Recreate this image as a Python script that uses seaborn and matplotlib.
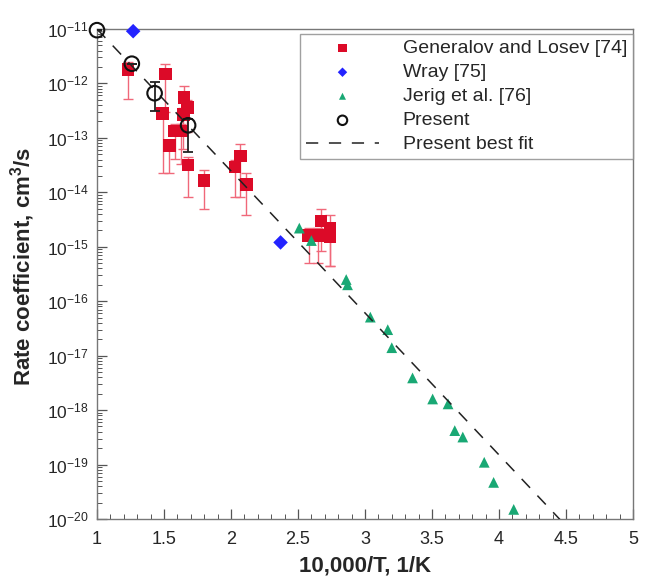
import numpy as np
import pandas as pd
import matplotlib
matplotlib.use("Agg")
import matplotlib.pyplot as plt
import seaborn as sns
from matplotlib.ticker import MultipleLocator, LogLocator, NullFormatter, FixedLocator, FixedFormatter

# ---------------- data ----------------
gl_x = [1.23, 1.51, 1.49, 1.65, 1.675, 1.645, 1.58, 1.63, 1.54, 1.68, 1.80,
        2.07, 2.03, 2.115, 2.58, 2.65, 2.67, 2.74, 2.74]
gl_y = [1.8e-12, 1.5e-12, 2.8e-13, 5.5e-13, 3.6e-13, 2.7e-13, 1.35e-13, 1.35e-13, 7.2e-14, 3.2e-14, 1.66e-14,
        4.6e-14, 2.9e-14, 1.4e-14, 1.6e-15, 1.6e-15, 3.0e-15, 2.2e-15, 1.55e-15]
gl_lo = [5.1e-13, 3.0e-13, 2.3e-14, 2.2e-13, 1.26e-13, 6.2e-14, 4.1e-14, 3.3e-14, 2.3e-14, 8.3e-15, 4.9e-15,
         8.3e-15, 8.3e-15, 3.9e-15, 5.1e-16, 5.1e-16, 8.5e-16, 4.5e-16, 4.5e-16]
gl_hi = [2.5e-12, 2.3e-12, 3.6e-13, 8.9e-13, 5.0e-13, 3.5e-13, 1.8e-13, 1.8e-13, 9.3e-14, 4.4e-14, 2.6e-14,
         7.6e-14, 4.0e-14, 2.3e-14, 2.2e-15, 2.2e-15, 4.9e-15, 3.9e-15, 2.2e-15]

wray_x = [1.27, 2.37]
wray_y = [9.1e-12, 1.2e-15]

jerig_x = [2.51, 2.60, 2.86, 2.87, 3.04, 3.17, 3.20, 3.355, 3.505, 3.62, 3.67, 3.73, 3.89, 3.96, 4.11]
jerig_y = [2.2e-15, 1.3e-15, 2.5e-16, 2.0e-16, 5.1e-17, 3.0e-17, 1.4e-17, 3.9e-18, 1.6e-18, 1.3e-18,
           4.2e-19, 3.2e-19, 1.1e-19, 4.7e-20, 1.5e-20]

present_x = [1.0, 1.26, 1.43, 1.68]
present_y = [9.5e-12, 2.3e-12, 6.6e-13, 1.7e-13]
present_lo = [9.5e-12, 2.3e-12, 3.1e-13, 5.6e-14]
present_hi = [9.5e-12, 2.3e-12, 1.05e-12, 2.2e-13]

fit_x = [1.0, 4.46]
fit_y = [1.0e-11, 9.5e-21]

x_ticks = [1, 1.5, 2, 2.5, 3, 3.5, 4, 4.5, 5]
x_ticklabels = ["1", "1.5", "2", "2.5", "3", "3.5", "4", "4.5", "5"]
y_exps = [-11, -12, -13, -14, -15, -16, -17, -18, -19, -20]

labels = ["Generalov and Losev [74]", "Wray [75]", "Jerig et al. [76]", "Present", "Present best fit"]

# ---------------- style ----------------
sns.set_style("ticks")
plt.rcParams["font.family"] = ["Liberation Sans", "DejaVu Sans"]
plt.rcParams["mathtext.fontset"] = "custom"
plt.rcParams["mathtext.rm"] = "Liberation Sans"
plt.rcParams["mathtext.it"] = "Liberation Sans"
plt.rcParams["mathtext.bf"] = "Liberation Sans:bold"
plt.rcParams["mathtext.default"] = "regular"

fig = plt.figure(figsize=(6.5, 5.78), dpi=100)
ax = fig.add_axes([0.1492, 0.1021, 0.8246, 0.8478])

red = "#dc0a28"
red_err = "#f0687a"
green = "#19a874"
blue = "#2323ff"

# fit line
sns.lineplot(x=fit_x, y=fit_y, ax=ax, color="#222222", lw=1.1, dashes=False,
             label=labels[4], zorder=4)
ax.lines[-1].set_dashes((8, 7))

# error bars
gl_y_a = np.array(gl_y)
ax.errorbar(gl_x, gl_y, yerr=[gl_y_a - np.array(gl_lo), np.array(gl_hi) - gl_y_a], fmt="none",
            ecolor=red_err, elinewidth=1.0, capsize=3.5, capthick=1.0, zorder=2)
pr_y_a = np.array(present_y)
ax.errorbar(present_x, present_y, yerr=[pr_y_a - np.array(present_lo), np.array(present_hi) - pr_y_a],
            fmt="none", ecolor="#222222", elinewidth=1.3, capsize=3.5, capthick=1.3, zorder=5)

sns.scatterplot(x=gl_x, y=gl_y, ax=ax, marker="s", s=80, color=red, edgecolor="none",
                label=labels[0], zorder=3)
sns.scatterplot(x=wray_x, y=wray_y, ax=ax, marker="D", s=55, color=blue, edgecolor="none",
                label=labels[1], zorder=3, clip_on=False)
sns.scatterplot(x=jerig_x, y=jerig_y, ax=ax, marker="^", s=60, color=green, edgecolor="none",
                label=labels[2], zorder=3)
sns.scatterplot(x=present_x, y=present_y, ax=ax, marker="o", s=110, facecolor="none",
                edgecolor="#111111", linewidth=1.5, label=labels[3], zorder=6, clip_on=False)

# axes
ax.set_yscale("log")
ax.set_xlim(1, 5)
ax.set_ylim(1e-20, 1e-11)
ax.xaxis.set_major_locator(FixedLocator(x_ticks))
ax.xaxis.set_major_formatter(FixedFormatter(x_ticklabels))
ax.xaxis.set_minor_locator(MultipleLocator(0.1))
ax.yaxis.set_major_locator(FixedLocator([10.0 ** e for e in y_exps]))
ax.yaxis.set_major_formatter(FixedFormatter([r"$10^{%d}$" % e for e in y_exps]))
ax.yaxis.set_minor_locator(LogLocator(base=10, subs=np.arange(2, 10), numticks=20))
ax.yaxis.set_minor_formatter(NullFormatter())
ax.tick_params(which="both", direction="in", top=False, right=False, color="#555555")
ax.tick_params(which="major", length=7, width=0.9)
ax.tick_params(which="minor", length=3.5, width=0.7)
ax.tick_params(axis="x", which="major", labelsize=13, pad=9)
ax.tick_params(axis="y", which="major", labelsize=12.5, pad=6)
for s in ax.spines.values():
    s.set_color("#777777")
    s.set_linewidth(1.0)

ax.set_xlabel("10,000/T, 1/K", fontsize=16, fontweight="bold", labelpad=5)
ax.set_ylabel("Rate coefficient, cm$^3$/s", fontsize=16, fontweight="bold")
ax.yaxis.set_label_coords(-0.112, 0.516)

h, l = ax.get_legend_handles_labels()
order = [l.index(t) for t in labels]
leg = ax.legend([h[i] for i in order], [l[i] for i in order], loc="upper right",
                bbox_to_anchor=(1.0, 0.99), borderaxespad=0.0, frameon=True, fancybox=False,
                fontsize=14, markerscale=0.65, handlelength=3.8, handletextpad=1.2,
                labelspacing=0.33, borderpad=0.3)
leg.get_frame().set_edgecolor("#888888")
leg.get_frame().set_linewidth(1.0)

fig.savefig("out.png", dpi=100)
